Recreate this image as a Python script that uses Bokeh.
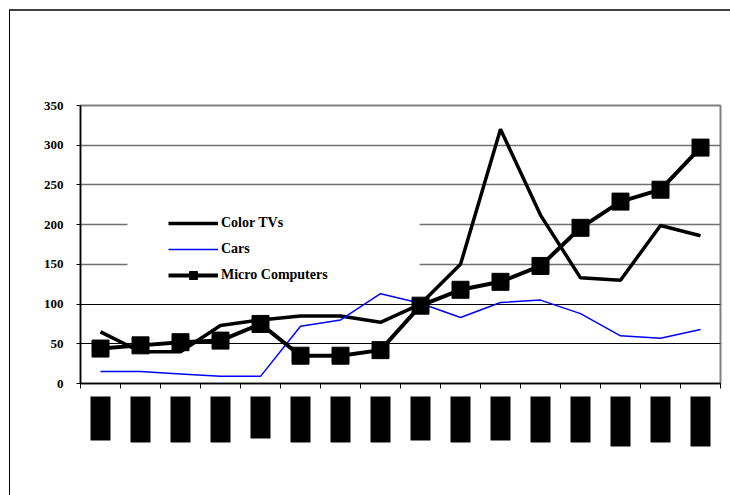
from bokeh.plotting import figure
from bokeh.models import (Range1d, FixedTicker, Grid, Legend, LegendItem,
                          BoxAnnotation, ColumnDataSource)
from bokeh.layouts import column
from bokeh.embed import file_html
from bokeh.resources import INLINE
import numpy as np

# ---- data ----
categories = [str(i) for i in range(1, 17)]   # x-axis labels render as solid black boxes
color_tvs = [65, 40, 40, 73, 80, 85, 85, 77, 100, 150, 320, 212, 133, 130, 199, 186]
cars = [15, 15, 12, 9, 9, 72, 80, 113, 101, 83, 102, 105, 88, 60, 57, 68]
micro_computers = [44, 48, 52, 54, 75, 35, 35, 42, 98, 118, 128, 148, 196, 229, 244, 297]
label_lengths = [44, 46, 46, 46, 42, 46, 46, 46, 44, 46, 44, 46, 46, 50, 46, 50]
y_ticks = [0, 50, 100, 150, 200, 250, 300, 350]

n = len(categories)
xs = np.arange(n) + 0.5

FONT = "Liberation Serif"

p = figure(width=720, height=385, output_backend="svg", toolbar_location=None,
           x_range=Range1d(0, n), y_range=Range1d(0, 350),
           min_border_left=70, min_border_right=10, min_border_top=94,
           min_border_bottom=13)
p.outline_line_color = "#808080"
p.outline_line_width = 2
p.background_fill_color = "white"

# axes
p.yaxis.ticker = FixedTicker(ticks=y_ticks)
p.yaxis.major_label_text_font = FONT
p.yaxis.major_label_text_font_style = "bold"
p.yaxis.major_label_text_font_size = "13px"
p.yaxis.major_label_text_color = "black"
p.yaxis.major_label_standoff = 13
p.yaxis.major_tick_out = 4
p.yaxis.major_tick_in = 0
p.yaxis.minor_tick_line_color = None
p.yaxis.axis_line_color = "black"
p.yaxis.axis_line_width = 1.5

p.xaxis.ticker = FixedTicker(ticks=list(range(n + 1)))
p.xaxis.major_label_overrides = {i: "" for i in range(n + 1)}
p.xaxis.major_label_text_font_size = "1px"
p.xaxis.major_label_standoff = 0
p.xaxis.major_tick_out = 5
p.xaxis.major_tick_in = 0
p.xaxis.minor_tick_line_color = None
p.xaxis.axis_line_color = "black"
p.xaxis.axis_line_width = 1.5

# grids
p.xgrid.grid_line_color = None
p.ygrid.ticker = FixedTicker(ticks=[150, 200, 250, 300])
p.ygrid.grid_line_color = "#707070"
p.ygrid.grid_line_width = 1.3
g2 = Grid(dimension=1, ticker=FixedTicker(ticks=[50, 100]),
          grid_line_color="black", grid_line_width=1)
p.add_layout(g2)

# white area behind the legend (masks the grid lines)
mask = BoxAnnotation(left=1.175, right=8.475, bottom=123, top=214,
                     fill_color="white", fill_alpha=1, line_color=None,
                     level="underlay")
p.add_layout(mask)

r_tv = p.line(xs, color_tvs, line_color="black", line_width=3.5)
r_cars = p.line(xs, cars, line_color="#0000FF", line_width=1.5)
r_mc_line = p.line(xs, micro_computers, line_color="black", line_width=4)
r_mc_pts = p.scatter(xs, micro_computers, marker="square", size=17,
                     fill_color="black", line_color="black")

legend = Legend(items=[
    LegendItem(label="Color TVs", renderers=[r_tv]),
    LegendItem(label="Cars", renderers=[r_cars]),
    LegendItem(label="Micro Computers", renderers=[r_mc_line, r_mc_pts]),
], location=(83, 93), margin=0, padding=5, spacing=6,
   glyph_width=50, glyph_height=20, label_height=20, label_standoff=3,
   label_text_font=FONT, label_text_font_style="bold",
   label_text_font_size="14px", label_text_color="black",
   background_fill_alpha=0, border_line_alpha=0)
p.add_layout(legend)

# bottom strip with the (box-rendered) category labels
b = figure(width=720, height=99, output_backend="svg", toolbar_location=None,
           x_range=p.x_range, y_range=Range1d(-99, 0),
           min_border_left=70, min_border_right=10, min_border_top=0,
           min_border_bottom=0)
b.axis.visible = False
b.grid.visible = False
b.outline_line_color = None
src = ColumnDataSource(dict(left=xs - 0.25, right=xs + 0.25,
                            top=np.zeros(n) + 1.0,
                            bottom=-np.array(label_lengths, dtype=float)))
b.quad(left="left", right="right", top="top", bottom="bottom", source=src,
       fill_color="black", line_color=None)

layout = column(p, b, spacing=0,
                styles={"border-left": "1px solid black",
                        "border-top": "2px solid #404040",
                        "margin-left": "9px", "margin-top": "9px"})

open("out.html", "w").write(file_html(layout, INLINE))
